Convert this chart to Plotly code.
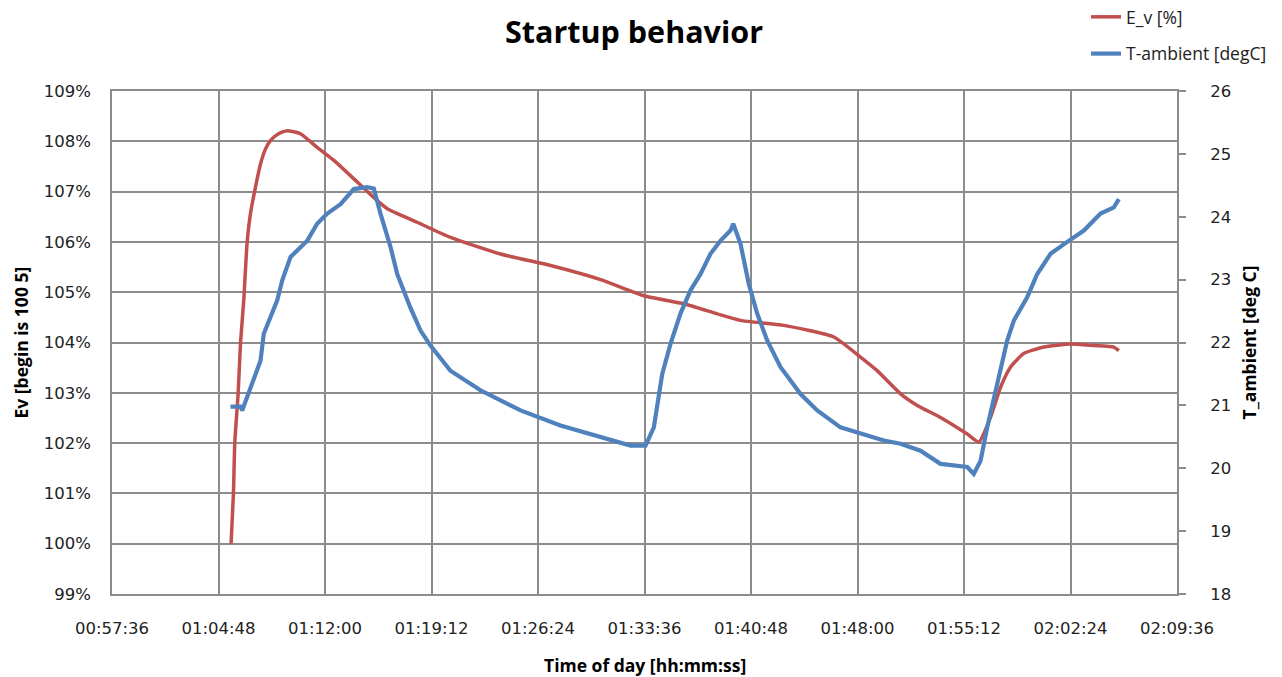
import pandas as pd
import plotly.graph_objects as go

# ---- data (time in minutes after midnight) ----
ev_time_min = [65.65, 65.81, 65.90, 66.13, 66.29, 66.51, 66.73, 66.96, 67.30, 67.64, 67.98,
               68.32, 68.86, 69.44, 70.34,
               71.47, 72.60, 74.18, 75.53, 76.21, 78.23, 80.48, 83.86, 87.25, 90.63, 93.55,
               96.26, 98.52, 100.09, 103.02, 106.40, 108.20, 109.33, 110.91, 112.04, 113.61,
               115.42, 116.20, 116.99, 117.67, 118.34, 119.24, 120.60, 122.40, 123.98, 125.33,
               125.67]
ev_pct = [100.0, 101.0, 102.0, 103.0, 104.0, 104.85, 105.97, 106.56, 107.09, 107.55, 107.85,
          108.02, 108.15, 108.21, 108.15,
          107.88, 107.62, 107.19, 106.82, 106.66, 106.39, 106.09, 105.76, 105.53, 105.25, 104.93,
          104.77, 104.57, 104.44, 104.34, 104.11, 103.71, 103.44, 102.98, 102.75, 102.51,
          102.18, 102.02, 102.51, 103.11, 103.51, 103.78, 103.91, 103.97, 103.94, 103.91,
          103.84]

t_time_min = [65.61, 66.29, 66.40, 66.74, 67.19, 67.64, 67.86, 68.32, 68.77, 69.11, 69.67,
              70.80, 71.47, 72.15, 73.05, 73.95, 74.85, 75.30, 75.75, 76.43, 76.88, 77.78,
              78.46, 79.13, 80.48, 82.51, 85.22, 87.92, 90.63, 92.65, 93.67, 94.23, 94.80,
              95.36, 96.03, 96.71, 97.39, 98.06, 98.74, 99.41, 99.60, 100.09, 100.65, 101.22,
              101.90, 102.79, 104.15, 105.28, 106.85, 108.20, 109.78, 110.91, 112.26, 113.61,
              115.42, 115.86, 116.32, 116.77, 117.45, 118.12, 118.57, 119.47, 120.15, 121.05,
              122.18, 123.30, 124.43, 125.33, 125.67]
t_ambient = [20.98, 20.98, 20.92, 21.13, 21.40, 21.71, 22.14, 22.43, 22.67, 22.99, 23.36,
             23.62, 23.89, 24.05, 24.20, 24.44, 24.47, 24.45, 24.05, 23.52, 23.09, 22.55,
             22.19, 21.95, 21.55, 21.24, 20.92, 20.68, 20.49, 20.36, 20.36, 20.65, 21.50,
             21.98, 22.46, 22.83, 23.09, 23.41, 23.62, 23.78, 23.89, 23.57, 22.93, 22.46,
             22.03, 21.61, 21.18, 20.92, 20.65, 20.55, 20.44, 20.39, 20.28, 20.07,
             20.02, 19.91, 20.12, 20.65, 21.34, 22.03, 22.35, 22.72, 23.09, 23.41,
             23.60, 23.78, 24.05, 24.15, 24.28]

x_start = "2000-01-01 00:57:36"
x_end = "2000-01-01 02:09:36"

base = pd.Timestamp("2000-01-01")
ev_time = base + pd.to_timedelta(ev_time_min, unit="min")
t_time = base + pd.to_timedelta(t_time_min, unit="min")

RED = "#C0504D"
BLUE = "#4F81BD"
GRID = "#8C8C8C"
TICKFONT = dict(family="DejaVu Sans", size=16.5, color="#222222")
TITLEFONT = dict(family="Open Sans", size=17.5, color="#000000")

W, H = 1274, 669          # page has an 8px body margin
L, R, T, B = 104, 105, 83, 83
PW, PH = W - L - R, H - T - B

fig = go.Figure()
fig.add_trace(go.Scatter(x=ev_time, y=ev_pct, name="E_v [%]", mode="lines",
                         line=dict(color=RED, width=3.5, shape="spline", smoothing=0.5),
                         legendgroup="a"))
fig.add_trace(go.Scatter(x=t_time, y=t_ambient, name="T-ambient [degC]", mode="lines",
                         line=dict(color=BLUE, width=4.2), yaxis="y2", legendgroup="b"))

fig.update_layout(
    width=W, height=H,
    paper_bgcolor="white", plot_bgcolor="white",
    margin=dict(l=L, r=R, t=T, b=B, autoexpand=False),
    title=dict(text="<b>Startup behavior</b>", x=626/W, xref="container", xanchor="center",
               y=1 - 24/H, yref="container", yanchor="middle",
               font=dict(family="Open Sans", size=30.5, color="#000000")),
    xaxis=dict(type="date", range=[x_start, x_end], tick0=x_start, dtick=432000,
               tickformat="%H:%M:%S", showgrid=True, gridcolor=GRID, gridwidth=1.5,
               showline=True, linecolor=GRID, linewidth=1.5, mirror=True, ticks="",
               tickfont=TICKFONT, ticklabelstandoff=18, automargin=False, zeroline=False),
    yaxis=dict(range=[99, 109], dtick=1, ticksuffix="%", showgrid=True, gridcolor=GRID,
               gridwidth=1.5, showline=True, linecolor=GRID, linewidth=1.5, mirror=True,
               ticks="", tickfont=TICKFONT, ticklabelstandoff=16, zeroline=False,
               automargin=False),
    yaxis2=dict(range=[18, 26], dtick=1, overlaying="y", side="right", showgrid=False,
                ticks="outside", ticklen=8, tickcolor=GRID, tickwidth=1.5,
                showline=False, tickfont=TICKFONT, ticklabelstandoff=21, zeroline=False,
                automargin=False),
    legend=dict(xref="container", yref="paper", x=1078/W, y=1.183,
                xanchor="left", yanchor="top", traceorder="grouped", tracegroupgap=11,
                font=dict(family="Open Sans", size=17.5, color="#222222"),
                bgcolor="rgba(0,0,0,0)"),
    showlegend=True,
    annotations=[
        dict(text="<b>Time of day [hh:mm:ss]</b>", xref="paper", yref="paper",
             x=(637 - L) / PW, y=(PH + T - 657) / PH, xanchor="center", yanchor="middle",
             showarrow=False, font=TITLEFONT),
        dict(text="<b>Ev [begin is 100 5]</b>", xref="paper", yref="paper",
             x=(12 - L) / PW, y=0.5, xanchor="center", yanchor="middle", textangle=-90,
             showarrow=False, font=TITLEFONT),
        dict(text="<b>T_ambient [deg C]</b>", xref="paper", yref="paper",
             x=(1240 - L) / PW, y=0.5, xanchor="center", yanchor="middle", textangle=-90,
             showarrow=False, font=TITLEFONT),
    ],
)

fig.write_html("out.html")
